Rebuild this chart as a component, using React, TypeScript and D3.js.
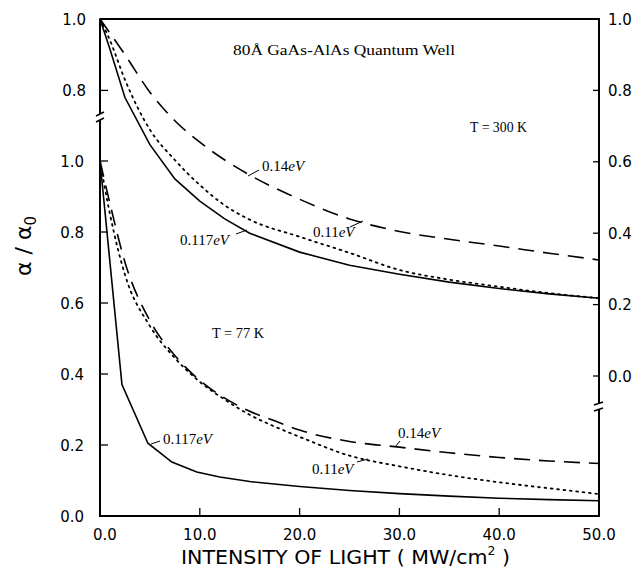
import React from "react";
import * as d3 from "d3";

// ---- data ----
const xTicks = [0, 10, 20, 30, 40, 50];
const xTickLabels = ["0.0", "10.0", "20.0", "30.0", "40.0", "50.0"];
const lowerTicks = [0, 0.2, 0.4, 0.6, 0.8, 1.0];
const lowerTickLabels = ["0.0", "0.2", "0.4", "0.6", "0.8", "1.0"];
const upperLeftTicks = [0.8, 1.0];
const upperLeftTickLabels = ["0.8", "1.0"];
const rightTicks = [0, 0.2, 0.4, 0.6, 0.8, 1.0];
const rightTickLabels = ["0.0", "0.2", "0.4", "0.6", "0.8", "1.0"];

// T = 300 K (read on right axis)
const hot117: [number, number][] = [
  [0, 1.0], [1, 0.915], [2.5, 0.78], [5, 0.648], [7.5, 0.552], [10, 0.49],
  [12.5, 0.44], [15, 0.4], [20, 0.347], [25, 0.31], [30, 0.285], [35, 0.263],
  [40, 0.245], [45, 0.23], [50, 0.218],
];
const hot11: [number, number][] = [
  [0, 1.0], [1, 0.94], [2.5, 0.83], [5, 0.69], [7.5, 0.605], [10, 0.535],
  [12.5, 0.478], [15, 0.438], [20, 0.39], [25, 0.345], [30, 0.297], [35, 0.27],
  [40, 0.25], [45, 0.232], [50, 0.218],
];
const hot14: [number, number][] = [
  [0, 1.0], [2.5, 0.9], [5, 0.795], [7.5, 0.715], [10, 0.655], [12.5, 0.605],
  [15, 0.563], [20, 0.495], [25, 0.44], [30, 0.405], [35, 0.383], [40, 0.364],
  [45, 0.344], [50, 0.325],
];

// T = 77 K (read on lower left axis)
const cold117: [number, number][] = [
  [0, 1.0], [2.2, 0.37], [4.8, 0.205], [7.2, 0.152], [9.7, 0.124], [12, 0.11],
  [15, 0.097], [20, 0.083], [25, 0.072], [30, 0.063], [35, 0.056], [40, 0.05],
  [45, 0.046], [50, 0.043],
];
const cold11: [number, number][] = [
  [0, 1.0], [1, 0.85], [2.5, 0.68], [5, 0.535], [7.5, 0.445], [10, 0.378],
  [12.5, 0.328], [15, 0.285], [17.5, 0.252], [20, 0.223], [25, 0.17], [30, 0.14],
  [35, 0.115], [40, 0.095], [45, 0.078], [50, 0.062],
];
const cold14: [number, number][] = [
  [0, 1.0], [1, 0.88], [2.5, 0.715], [5, 0.55], [7.5, 0.452], [10, 0.382],
  [12.5, 0.332], [15, 0.295], [17.5, 0.268], [20, 0.242], [25, 0.21], [30, 0.194],
  [35, 0.178], [40, 0.165], [45, 0.155], [50, 0.148],
];

export default function App() {
  const L = 100, R = 599, T = 19, B = 516;
  const x = d3.scaleLinear().domain([0, 50]).range([L, R]);
  const yLow = d3.scaleLinear().domain([0, 1]).range([B, 161]);
  const yUp = d3.scaleLinear().domain([0, 1]).range([376, T]);

  const lineUp = d3.line<[number, number]>().x(d => x(d[0])).y(d => yUp(d[1]));
  const lineUpS = d3.line<[number, number]>().x(d => x(d[0])).y(d => yUp(d[1])).curve(d3.curveMonotoneX);
  const lineLow = d3.line<[number, number]>().x(d => x(d[0])).y(d => yLow(d[1]));
  const lineLowS = d3.line<[number, number]>().x(d => x(d[0])).y(d => yLow(d[1])).curve(d3.curveMonotoneX);

  const sans = "'DejaVu Sans', Verdana, sans-serif";
  const serif = "'Liberation Serif', 'DejaVu Serif', serif";
  const dash = "16 9";
  const dot = "1.8 4.6";

  const leftBreak = 117;
  const rightBreak = 406;

  return (
    <svg width={639} height={570} style={{ position: "absolute", left: 0, top: 0, background: "#fff" }}>
      <rect x={0} y={0} width={639} height={570} fill="#fff" />
      {/* frame */}
      <line x1={L} x2={R} y1={T} y2={T} stroke="#000" strokeWidth={2} />
      <line x1={L} x2={R} y1={B} y2={B} stroke="#000" strokeWidth={2} />
      <line x1={L} x2={L} y1={T} y2={leftBreak - 3} stroke="#000" strokeWidth={2} />
      <line x1={L} x2={L} y1={leftBreak + 3} y2={B + 1} stroke="#000" strokeWidth={2} />
      <line x1={L - 4} x2={L + 4} y1={leftBreak - 1} y2={leftBreak - 5} stroke="#000" strokeWidth={1.4} />
      <line x1={L - 4} x2={L + 4} y1={leftBreak + 5} y2={leftBreak + 1} stroke="#000" strokeWidth={1.4} />
      <line x1={R} x2={R} y1={T - 1} y2={rightBreak - 3} stroke="#000" strokeWidth={2} />
      <line x1={R} x2={R} y1={rightBreak + 3} y2={B + 1} stroke="#000" strokeWidth={2} />
      <line x1={R - 5} x2={R + 4} y1={rightBreak - 1} y2={rightBreak - 4} stroke="#000" strokeWidth={1.4} />
      <line x1={R - 5} x2={R + 4} y1={rightBreak + 5} y2={rightBreak + 2} stroke="#000" strokeWidth={1.4} />

      {/* x ticks */}
      {xTicks.map((t, i) => (
        <g key={"xt" + i}>
          {t > 0 && t < 50 && <line x1={x(t)} x2={x(t)} y1={B} y2={B - 8} stroke="#000" strokeWidth={1.3} />}
          <text x={x(t) + (i === 0 ? 5 : 0)} y={540} fontFamily={sans} fontSize={15} textAnchor="middle">{xTickLabels[i]}</text>
        </g>
      ))}
      {/* lower left ticks */}
      {lowerTicks.map((t, i) => (
        <g key={"lt" + i}>
          {t > 0 && <line x1={L} x2={L + 8} y1={yLow(t)} y2={yLow(t)} stroke="#000" strokeWidth={1.3} />}
          <text x={84} y={yLow(t) + 5.5} fontFamily={sans} fontSize={15} textAnchor="end">{lowerTickLabels[i]}</text>
        </g>
      ))}
      {/* upper left ticks */}
      {upperLeftTicks.map((t, i) => (
        <g key={"ut" + i}>
          {t < 1 && <line x1={L} x2={L + 8} y1={yUp(t)} y2={yUp(t)} stroke="#000" strokeWidth={1.3} />}
          <text x={86} y={yUp(t) + 5.5} fontFamily={sans} fontSize={15} textAnchor="end">{upperLeftTickLabels[i]}</text>
        </g>
      ))}
      {/* right ticks */}
      {rightTicks.map((t, i) => (
        <g key={"rt" + i}>
          {t < 1 && <line x1={R} x2={R - 6} y1={yUp(t)} y2={yUp(t)} stroke="#000" strokeWidth={1.3} />}
          <text x={608} y={yUp(t) + 5.5} fontFamily={sans} fontSize={15} textAnchor="start">{rightTickLabels[i]}</text>
        </g>
      ))}

      {/* curves T = 300 K */}
      <path d={lineUp(hot117) || ""} fill="none" stroke="#000" strokeWidth={1.6} />
      <path d={lineUpS(hot11) || ""} fill="none" stroke="#000" strokeWidth={1.8} strokeDasharray={dot} strokeLinecap="round" />
      <path d={lineUpS(hot14) || ""} fill="none" stroke="#000" strokeWidth={1.6} strokeDasharray={dash} />
      {/* curves T = 77 K */}
      <path d={lineLow(cold117) || ""} fill="none" stroke="#000" strokeWidth={1.6} />
      <path d={lineLowS(cold11) || ""} fill="none" stroke="#000" strokeWidth={1.8} strokeDasharray={dot} strokeLinecap="round" />
      <path d={lineLowS(cold14) || ""} fill="none" stroke="#000" strokeWidth={1.6} strokeDasharray={dash} />

      {/* annotations */}
      <text x={233} y={55} fontFamily={serif} fontSize={15} textLength={222} lengthAdjust="spacingAndGlyphs">80Å GaAs-AlAs Quantum Well</text>
      <text x={470} y={132} fontFamily={serif} fontSize={15} textLength={57} lengthAdjust="spacingAndGlyphs">T = 300 K</text>
      <text x={212} y={338} fontFamily={serif} fontSize={15} textLength={52} lengthAdjust="spacingAndGlyphs">T = 77 K</text>

      <text x={262} y={171} fontFamily={serif} fontSize={15}>0.14<tspan fontStyle="italic">eV</tspan></text>
      <line x1={248} y1={176} x2={259} y2={170} stroke="#000" strokeWidth={1} />
      <text x={313} y={237} fontFamily={serif} fontSize={15}>0.11<tspan fontStyle="italic">eV</tspan></text>
      <line x1={350} y1={227} x2={363} y2={221} stroke="#000" strokeWidth={1} />
      <text x={180} y={245} fontFamily={serif} fontSize={15}>0.117<tspan fontStyle="italic">eV</tspan></text>
      <line x1={236} y1={234} x2={247} y2={230} stroke="#000" strokeWidth={1} />

      <text x={163} y={444} fontFamily={serif} fontSize={15}>0.117<tspan fontStyle="italic">eV</tspan></text>
      <line x1={151} y1={444} x2={160} y2={441} stroke="#000" strokeWidth={1} />
      <text x={398} y={438} fontFamily={serif} fontSize={15}>0.14<tspan fontStyle="italic">eV</tspan></text>
      <line x1={395} y1={447} x2={400} y2={441} stroke="#000" strokeWidth={1} />
      <text x={312} y={474} fontFamily={serif} fontSize={15}>0.11<tspan fontStyle="italic">eV</tspan></text>
      <line x1={357} y1={462} x2={368} y2={459} stroke="#000" strokeWidth={1} />

      {/* axis titles */}
      <text transform="translate(31,246) rotate(-90)" fontFamily={sans} fontSize={22} textAnchor="middle">
        α / α<tspan fontSize={15} dy={5}>0</tspan>
      </text>
      <text x={181} y={564} fontFamily={sans} fontSize={20} textLength={329} lengthAdjust="spacingAndGlyphs">
        INTENSITY OF LIGHT ( MW/cm<tspan fontSize={12} dy={-9}>2</tspan><tspan dy={9}> )</tspan>
      </text>
    </svg>
  );
}
